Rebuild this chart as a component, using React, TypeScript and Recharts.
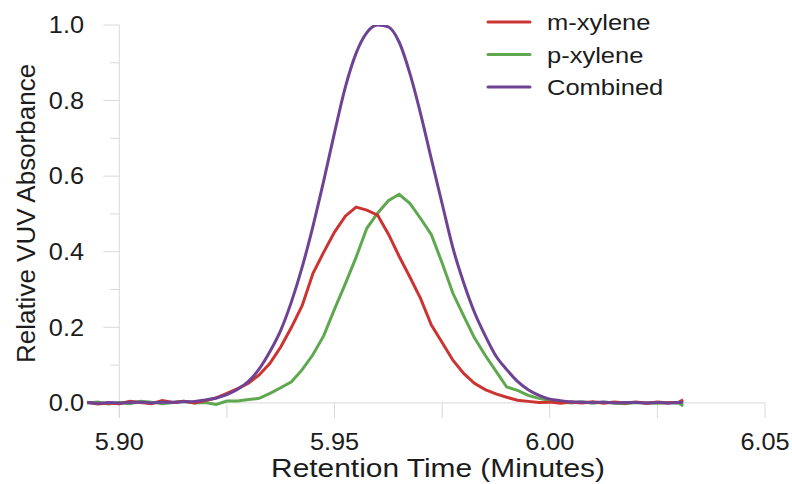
import React from 'react';
import { ComposedChart, Line, XAxis, YAxis, ReferenceLine, Legend } from 'recharts';

// Retention time (minutes) of each sample
const retentionTime = [
  5.8925, 5.895, 5.8975, 5.9, 5.9025, 5.905, 5.9075, 5.91, 5.9125, 5.915,
  5.9175, 5.92, 5.9225, 5.925, 5.9275, 5.93, 5.9325, 5.935, 5.9375, 5.94,
  5.9425, 5.945, 5.9475, 5.95, 5.9525, 5.955, 5.9575, 5.96, 5.9625, 5.965,
  5.9675, 5.97, 5.9725, 5.975, 5.9775, 5.98, 5.9825, 5.985, 5.9875, 5.99,
  5.9925, 5.995, 5.9975, 6.0, 6.0025, 6.005, 6.0075, 6.01, 6.0125, 6.015,
  6.0175, 6.02, 6.0225, 6.025, 6.0275, 6.03, 6.031,
];

// Relative VUV absorbance of each component and of the co-eluting peak
const mXylene = [
  0.002, -0.003, 0.0, -0.002, 0.004, 0.001, -0.002, 0.006, 0.001, 0.004,
  0.0, 0.006, 0.013, 0.025, 0.038, 0.052, 0.074, 0.105, 0.148, 0.2,
  0.258, 0.343, 0.399, 0.452, 0.494, 0.518, 0.51, 0.497, 0.447, 0.388,
  0.333, 0.276, 0.206, 0.16, 0.113, 0.078, 0.052, 0.035, 0.024, 0.015,
  0.007, 0.004, 0.001, 0.002, -0.001, 0.002, 0.0, 0.003, -0.001, 0.002,
  0.0, 0.002, -0.001, 0.002, 0.0, 0.002, 0.008,
];

const pXylene = [
  0.0, 0.002, -0.003, 0.001, -0.002, 0.004, 0.002, -0.002, 0.001, 0.004,
  0.0, 0.001, -0.004, 0.005, 0.005, 0.009, 0.012, 0.025, 0.04, 0.056,
  0.088, 0.128, 0.178, 0.248, 0.315, 0.385, 0.462, 0.502, 0.535, 0.552,
  0.528, 0.488, 0.445, 0.37, 0.29, 0.23, 0.172, 0.126, 0.084, 0.042,
  0.033, 0.02, 0.012, 0.006, 0.002, 0.0, 0.003, -0.001, 0.002, 0.0,
  -0.002, 0.001, 0.0, -0.001, 0.001, -0.001, -0.008,
];

const combined = [
  0.001, -0.001, 0.001, 0.0, 0.001, 0.002, 0.0, 0.002, 0.002, 0.003,
  0.004, 0.008, 0.013, 0.022, 0.036, 0.057, 0.09, 0.136, 0.192, 0.268,
  0.36, 0.468, 0.588, 0.715, 0.835, 0.925, 0.98, 1.0, 0.995, 0.955,
  0.872, 0.765, 0.645, 0.527, 0.41, 0.318, 0.24, 0.178, 0.124, 0.088,
  0.057, 0.035, 0.02, 0.01, 0.006, 0.003, 0.002, 0.001, 0.002, 0.0,
  0.001, 0.001, 0.0, 0.001, 0.0, 0.001, 0.002,
];

const seriesNames = ['m-xylene', 'p-xylene', 'Combined'];
const seriesKeys = ['m', 'p', 'c'];
const seriesColors = ['#cc3432', '#5fa84f', '#6f4393'];

const xTickLabels = [5.9, 5.95, 6.0, 6.05];
const xTickMarks = [5.9, 5.925, 5.95, 5.975, 6.0, 6.025, 6.05];
const yTickLabels = [0, 0.2, 0.4, 0.6, 0.8, 1.0];
const yMinorTicks = [0.1, 0.3, 0.5, 0.7, 0.9];

const X_MIN = 5.8925;
const X_MAX = 6.05;
const Y_MIN = -0.04;
const Y_MAX = 1.0;
const Y_AXIS_AT = 5.9;
const MAJOR_TICK_LEN = 0.0037;
const MINOR_TICK_LEN = 0.0021;

const FONT = "'Liberation Sans', Arial, Helvetica, sans-serif";
const TEXT = '#1c1c1c';
const AXIS = '#d9d9d9';

const rows = retentionTime.map((t, i) => ({
  t,
  m: mXylene[i],
  p: pXylene[i],
  c: combined[i],
}));

const XTick = (props: any) => {
  const { x, y, payload } = props;
  return (
    <text
      transform={`translate(${x},${y + 32}) scale(1.1,1)`}
      textAnchor="middle"
      fontFamily={FONT}
      fontSize={23}
      fill={TEXT}
    >
      {Number(payload.value).toFixed(2)}
    </text>
  );
};

const YTick = (props: any) => {
  const { x, y, payload } = props;
  return (
    <text
      transform={`translate(${x},${y}) scale(1.1,1)`}
      dy="0.36em"
      textAnchor="end"
      fontFamily={FONT}
      fontSize={23}
      fill={TEXT}
    >
      {Number(payload.value).toFixed(1)}
    </text>
  );
};

const XTitle = (props: any) => {
  const vb = props.viewBox || { x: 87, y: 418, width: 678, height: 66 };
  return (
    <text
      transform={`translate(${vb.x + vb.width / 2 + 12},${vb.y + 59}) scale(1.15,1)`}
      textAnchor="middle"
      fontFamily={FONT}
      fontSize={26}
      fill={TEXT}
    >
      Retention Time (Minutes)
    </text>
  );
};

const YTitle = (props: any) => {
  const vb = props.viewBox || { x: 0, y: 25, width: 87, height: 393 };
  return (
    <text
      transform={`translate(35,${vb.y + vb.height / 2 - 8}) rotate(-90)`}
      textAnchor="middle"
      fontFamily={FONT}
      fontSize={26}
      fill={TEXT}
    >
      Relative VUV Absorbance
    </text>
  );
};

const LegendBox = () => (
  <svg width={230} height={105} style={{ display: 'block' }}>
    {seriesNames.map((name, i) => (
      <g key={name}>
        <line
          x1={8}
          x2={50}
          y1={22 + i * 32.5}
          y2={22 + i * 32.5}
          stroke={seriesColors[i]}
          strokeWidth={3}
          strokeLinecap="round"
        />
        <text
          transform={`translate(67,${30 + i * 32.5}) scale(1.16,1)`}
          fontFamily={FONT}
          fontSize={22}
          fill={TEXT}
        >
          {name}
        </text>
      </g>
    ))}
  </svg>
);

export default function App() {
  // draw order: p-xylene, m-xylene, then the combined trace on top
  const order = [1, 0, 2];
  return (
    <div style={{ position: 'absolute', left: 0, top: 0, background: '#ffffff' }}>
      <ComposedChart
        width={792}
        height={484}
        data={rows}
        margin={{ top: 25, right: 27, bottom: 0, left: 0 }}
      >
        <XAxis
          type="number"
          dataKey="t"
          domain={[X_MIN, X_MAX]}
          allowDataOverflow
          ticks={xTickLabels}
          tick={<XTick />}
          tickSize={0}
          tickMargin={0}
          axisLine={false}
          tickLine={false}
          height={66}
          label={<XTitle />}
        />
        <YAxis
          type="number"
          domain={[Y_MIN, Y_MAX]}
          allowDataOverflow
          ticks={yTickLabels}
          tick={<YTick />}
          tickSize={0}
          tickMargin={3}
          axisLine={false}
          tickLine={false}
          width={87}
          label={<YTitle />}
        />

        {/* horizontal axis line at zero absorbance */}
        <ReferenceLine y={0} stroke={AXIS} strokeWidth={1} />
        {/* vertical axis line at 5.90 min */}
        <ReferenceLine
          segment={[{ x: Y_AXIS_AT, y: Y_MIN }, { x: Y_AXIS_AT, y: Y_MAX }]}
          stroke={AXIS}
          strokeWidth={1}
        />
        {xTickMarks.map((t) => (
          <ReferenceLine
            key={`xt-${t}`}
            segment={[{ x: t, y: 0 }, { x: t, y: Y_MIN }]}
            stroke={AXIS}
            strokeWidth={1}
          />
        ))}
        {yTickLabels.map((v) => (
          <ReferenceLine
            key={`yt-${v}`}
            segment={[{ x: Y_AXIS_AT - MAJOR_TICK_LEN, y: v }, { x: Y_AXIS_AT, y: v }]}
            stroke={AXIS}
            strokeWidth={1}
          />
        ))}
        {yMinorTicks.map((v) => (
          <ReferenceLine
            key={`ym-${v}`}
            segment={[{ x: Y_AXIS_AT - MINOR_TICK_LEN, y: v }, { x: Y_AXIS_AT, y: v }]}
            stroke={AXIS}
            strokeWidth={1}
          />
        ))}

        {order.map((i) => (
          <Line
            key={seriesKeys[i]}
            dataKey={seriesKeys[i]}
            name={seriesNames[i]}
            type={i === 2 ? 'monotone' : 'linear'}
            stroke={seriesColors[i]}
            strokeWidth={3}
            dot={false}
            activeDot={false}
            isAnimationActive={false}
          />
        ))}

        <Legend
          content={<LegendBox />}
          layout="horizontal"
          verticalAlign="middle"
          align="center"
          wrapperStyle={{ left: 480, top: 0, width: 230, height: 105 }}
        />
      </ComposedChart>
    </div>
  );
}
